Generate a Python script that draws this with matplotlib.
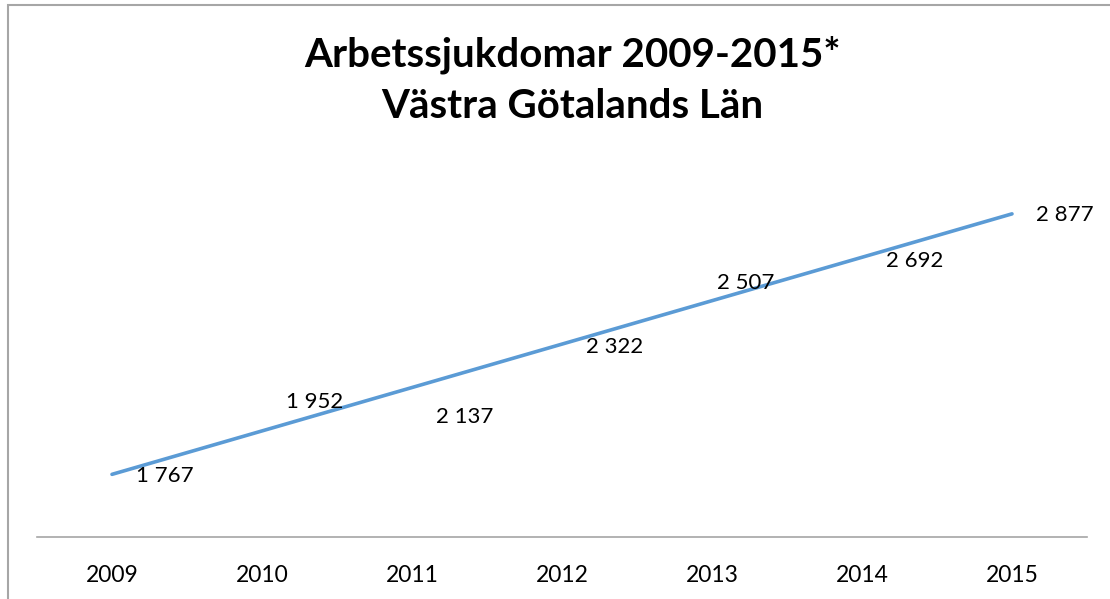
import matplotlib
matplotlib.use("Agg")
import matplotlib.pyplot as plt
from matplotlib.patches import Rectangle

years = ["2009", "2010", "2011", "2012", "2013", "2014", "2015"]
values = [1767, 1952, 2137, 2322, 2507, 2692, 2877]
labels = ["1 767", "1 952", "2 137", "2 322", "2 507", "2 692", "2 877"]
# label offsets (points) relative to each data point
offsets = [(38, -1), (38, 21), (38, -21), (38, -2), (24, 13), (38, -3), (38, -1)]

plt.rcParams['font.family'] = ['Lato', 'DejaVu Sans']

fig = plt.figure(figsize=(11.10, 5.99), dpi=100)
fig.patches.append(Rectangle((8/1110, -0.1), 1.2, 1 - 5/599 + 0.1, transform=fig.transFigure,
                             fill=False, edgecolor='#a6a6a6', linewidth=1.5))
ax = fig.add_axes([37/1110, 1 - 537/599, 1050/1110, (537 - 185)/599])
x = list(range(len(years)))
ax.plot(x, values, color='#5B9BD5', linewidth=2.6, solid_capstyle='round')
ax.set_xlim(-0.5, len(years) - 0.5)
ax.set_ylim(1500, 3000)
ax.set_xticks(x)
ax.set_xticklabels(years, fontsize=16.5)
ax.tick_params(axis='x', length=0, pad=20)
ax.set_yticks([])
for s in ['top', 'right', 'left']:
    ax.spines[s].set_visible(False)
ax.spines['bottom'].set_color('#a6a6a6')
ax.spines['bottom'].set_linewidth(1.2)
for xi, v, lab, off in zip(x, values, labels, offsets):
    ax.annotate(lab, (xi, v), xytext=off, textcoords='offset points',
                ha='center', va='center', fontsize=16)

fig.text(0.5155, 1 - 55/599, "Arbetssjukdomar 2009-2015*", ha='center', va='center',
         fontsize=29, fontweight='bold')
fig.text(0.5155, 1 - 106/599, "Västra Götalands Län", ha='center', va='center',
         fontsize=29, fontweight='bold')

fig.savefig("out.png", dpi=100)
